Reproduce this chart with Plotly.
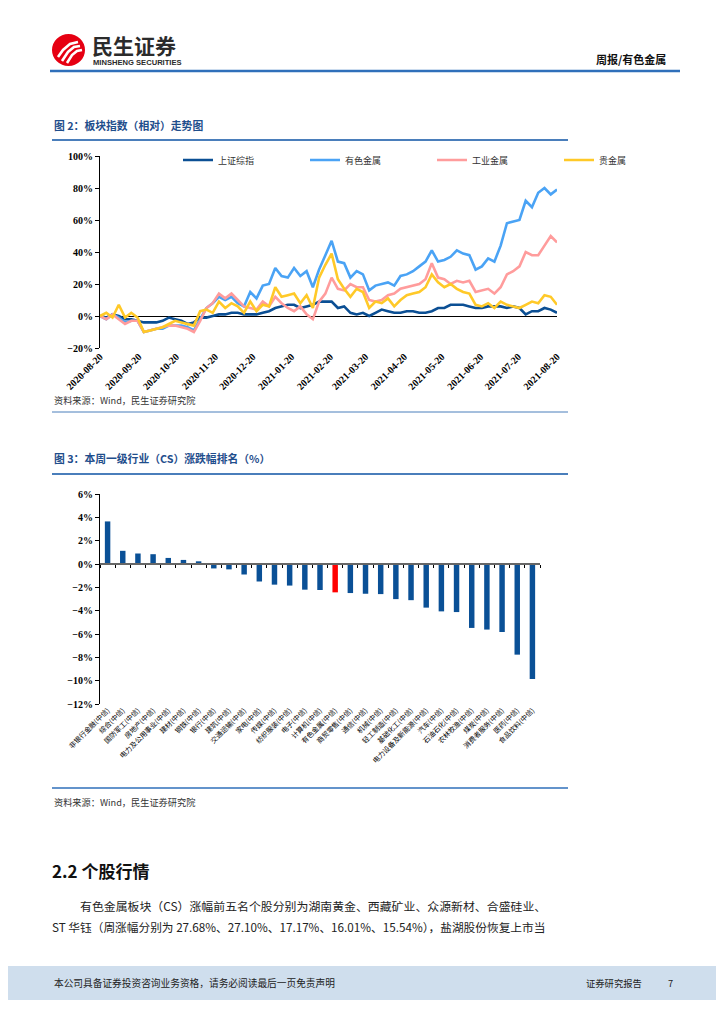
import plotly.graph_objects as go
import pandas as pd

W, H = 724, 1024
PAGE_OFFSET = 8  # the page body margin shifts the figure; positions below are page pixels
def X(px): return (px - PAGE_OFFSET) / W
def Y(py): return 1 - (py - PAGE_OFFSET) / H

# ---------------- data: figure 2 (relative index trend, 5-day samples)
dates = pd.date_range("2020-08-20", "2021-08-20", freq="5D")
sh_index = [0, -1, 1, 0, -2, -2, -3, -4, -4, -4, -3, -1, -2, -3, -5, -4, -1, -1, 0, 1,
            1, 2, 2, 1, 1, 1, 2, 3, 5, 6, 7, 7, 5, 6, 7, 9, 9, 9, 5, 6,
            2, 1, 2, 0, 2, 4, 3, 2, 2, 3, 3, 2, 2, 3, 5, 5, 7, 7, 7, 6,
            5, 5, 6, 6, 6, 5, 6, 5, 1, 3, 3, 5, 4, 2]
nonferrous = [0, -2, 1, -1, -4, -3, -3, -10, -9, -8, -8, -6, -6, -6, -7, -9, -2, 5, 8, 12,
              10, 12, 8, 6, 15, 11, 19, 20, 30, 25, 24, 30, 25, 28, 18, 29, 38, 47, 34, 33,
              24, 28, 26, 16, 19, 20, 21, 19, 25, 26, 28, 31, 34, 41, 34, 35, 37, 41, 39, 38,
              29, 31, 36, 34, 44, 58, 59, 60, 72, 68, 77, 80, 76, 79]
industrial = [0, -2, 1, -2, -5, -3, -3, -10, -9, -8, -7, -6, -6, -7, -8, -10, -3, 5, 8, 14,
              11, 14, 10, 6, 5, 4, 9, 6, 12, 8, 5, 3, 6, 1, -2, 9, 14, 24, 17, 16,
              20, 18, 18, 10, 9, 10, 13, 14, 17, 18, 19, 20, 23, 33, 24, 23, 20, 22, 21, 22,
              15, 16, 17, 14, 18, 26, 28, 31, 40, 38, 38, 44, 50, 46]
precious = [0, 2, -1, 7, -1, 2, -1, -10, -9, -8, -7, -5, -3, -4, -5, -6, 3, 4, 2, 9,
            5, 8, 6, 2, 9, 3, 7, 6, 18, 12, 13, 14, 8, 13, 5, 24, 32, 39, 23, 17,
            12, 17, 15, 5, 9, 8, 11, 6, 10, 13, 14, 15, 18, 26, 21, 18, 20, 17, 15, 14,
            7, 6, 8, 5, 9, 7, 6, 5, 7, 9, 8, 13, 12, 7]
series_names = ["上证综指", "有色金属", "工业金属", "贵金属"]
series_colors = ["#0b4f94", "#4aa3f5", "#ff9c9c", "#ffc928"]

# ---------------- data: figure 3 (weekly change by CITIC level-1 industry, %)
industries = ["非银行金融(中信)", "综合(中信)", "国防军工(中信)", "房地产(中信)", "电力及公用事业(中信)",
              "建材(中信)", "钢铁(中信)", "银行(中信)", "建筑(中信)", "交通运输(中信)",
              "家电(中信)", "传媒(中信)", "纺织服装(中信)", "电子(中信)", "计算机(中信)",
              "有色金属(中信)", "商贸零售(中信)", "通信(中信)", "机械(中信)", "轻工制造(中信)",
              "基础化工(中信)", "电力设备及新能源(中信)", "汽车(中信)", "石油石化(中信)", "农林牧渔(中信)",
              "煤炭(中信)", "消费者服务(中信)", "医药(中信)", "食品饮料(中信)"]
weekly_change = [3.65, 1.13, 0.90, 0.84, 0.52, 0.35, 0.23, -0.38, -0.46, -0.90,
                 -1.50, -1.77, -1.85, -2.20, -2.23, -2.43, -2.49, -2.55, -2.58, -3.01,
                 -3.10, -3.74, -4.06, -4.12, -5.48, -5.62, -5.83, -7.77, -9.86]
highlight = "有色金属(中信)"

CJK = "Noto Sans CJK SC"
SERIF = "Liberation Serif"
TITLE_BLUE = "#1f4e8c"

fig = go.Figure()
for name, vals, color in zip(series_names, [sh_index, nonferrous, industrial, precious], series_colors):
    fig.add_trace(go.Scatter(x=dates, y=vals, name=name, mode="lines",
                             line=dict(color=color, width=2.6), xaxis="x", yaxis="y"))

bar_colors = ["#ff0000" if c == highlight else "#0a5096" for c in industries]
fig.add_trace(go.Bar(x=industries, y=weekly_change, marker=dict(color=bar_colors, line=dict(width=0)),
                     width=0.36, xaxis="x2", yaxis="y2", showlegend=False, hoverinfo="x+y"))
# invisible helper trace so the zero-line axis with boundary ticks renders
fig.add_trace(go.Scatter(x=industries, y=[None] * len(industries), xaxis="x3", yaxis="y2",
                         mode="lines", showlegend=False, hoverinfo="skip"))

annotations = [
    dict(text="<b>图 2：板块指数（相对）走势图</b>", x=X(52), y=Y(125), font=dict(family=CJK, size=10.8, color=TITLE_BLUE)),
    dict(text="资料来源：Wind，民生证券研究院", x=X(52), y=Y(400), font=dict(family=CJK, size=9.2, color="#333333")),
    dict(text="<b>图 3：本周一级行业（CS）涨跌幅排名（%）</b>", x=X(52), y=Y(458), font=dict(family=CJK, size=10.8, color=TITLE_BLUE)),
    dict(text="资料来源：Wind，民生证券研究院", x=X(52), y=Y(802), font=dict(family=CJK, size=9.2, color="#333333")),
    dict(text="<b>2.2 个股行情</b>", x=X(50), y=Y(870), font=dict(family=CJK, size=17, color="#111111")),
    dict(text="有色金属板块（CS）涨幅前五名个股分别为湖南黄金、西藏矿业、众源新材、合盛硅业、",
         x=X(78), y=Y(905), font=dict(family=CJK, size=11.9, color="#222222")),
    dict(text="ST 华钰（周涨幅分别为 27.68%、27.10%、17.17%、16.01%、15.54%），盐湖股份恢复上市当",
         x=X(50), y=Y(926), font=dict(family=CJK, size=11.7, color="#222222")),
    dict(text="本公司具备证券投资咨询业务资格，请务必阅读最后一页免责声明", x=X(52), y=Y(983),
         font=dict(family=CJK, size=9.7, color="#222222")),
    dict(text="证券研究报告", x=X(584), y=Y(983), font=dict(family=CJK, size=9.3, color="#222222")),
    dict(text="7", x=X(666), y=Y(983), font=dict(family=CJK, size=9.3, color="#222222")),
    dict(text="<b>民生证券</b>", x=X(90), y=Y(45), font=dict(family=CJK, size=21, color="#2b2b2b")),
    dict(text="<b>MINSHENG SECURITIES</b>", x=X(91), y=Y(62), font=dict(family="Liberation Sans Narrow, Liberation Sans", size=7.6, color="#2b2b2b")),
    dict(text="<b>周报/有色金属</b>", x=X(668), y=Y(59), xanchor="right", font=dict(family=CJK, size=11, color="#111111")),
]
for a in annotations:
    a.setdefault("xanchor", "left")
    a.update(xref="paper", yref="paper", yanchor="middle", showarrow=False)

def hline(y, x0, x1, color, width):
    return dict(type="line", xref="paper", yref="paper", x0=X(x0), x1=X(x1), y0=Y(y), y1=Y(y),
                line=dict(color=color, width=width))

def stroke(pts):
    d = "M " + " L ".join(f"{X(px):.5f},{Y(py):.5f}" for px, py in pts)
    return dict(type="path", xref="paper", yref="paper", path=d, line=dict(color="white", width=2.6))

shapes = [
    dict(type="rect", xref="paper", yref="paper", x0=X(0), x1=X(732), y0=Y(1000), y1=Y(966),
         fillcolor="#cfdeed", line=dict(width=0), layer="below"),
    hline(71, 50, 680, "#2f6fba", 2.5),
    hline(140, 52, 568, "#4a7ebb", 2),
    hline(412, 52, 568, "#4a7ebb", 1),
    hline(474, 52, 568, "#4a7ebb", 2),
    hline(788, 52, 568, "#2f6fba", 1.5),
    dict(type="circle", xref="paper", yref="paper", x0=X(52), x1=X(85), y0=Y(66), y1=Y(34),
         fillcolor="#e60012", line=dict(width=0)),
    stroke([(58, 57), (63, 50), (70, 44), (78, 42)]),
    stroke([(62, 61), (68, 52), (74, 47), (80, 46)]),
    stroke([(67, 63), (72, 55), (77, 51), (82, 50)]),
]

axis_font = dict(family=SERIF, size=10, color="black", weight="bold")
fig.update_layout(
    template="none",
    width=W, height=H, margin=dict(l=0, r=0, t=0, b=0, pad=0, autoexpand=False),
    paper_bgcolor="white", plot_bgcolor="rgba(0,0,0,0)",
    showlegend=True,
    legend=dict(orientation="h", x=X(178), y=Y(160), xanchor="left", yanchor="middle",
                font=dict(family=CJK, size=9, color="#333333"), bgcolor="rgba(0,0,0,0)",
                entrywidth=82, entrywidthmode="pixels", itemwidth=30, tracegroupgap=0),
    xaxis=dict(domain=[X(100), X(557)], anchor="y", type="date", automargin=False,
               range=[dates[0], dates[-1]], tick0="2020-08-20", dtick="M1", tickformat="%Y-%m-%d",
               tickangle=-45, tickfont=axis_font, showgrid=False, showline=False, zeroline=False, ticks=""),
    yaxis=dict(domain=[Y(348), Y(156)], anchor="x", range=[-20, 100], dtick=20, ticksuffix="%",
               automargin=False, tickfont=axis_font, showgrid=False, showline=True, linecolor="black", linewidth=1,
               ticks="outside", ticklen=4, tickcolor="black",
               zeroline=True, zerolinecolor="black", zerolinewidth=1),
    xaxis2=dict(domain=[X(100), X(540)], anchor="y2", type="category", range=[-0.5, len(industries) - 0.5],
                automargin=False, tickangle=-45, tickfont=dict(family=CJK, size=7, color="black"),
                showgrid=False, showline=False, zeroline=False, ticks=""),
    xaxis3=dict(overlaying="x2", anchor="free", position=Y(564), type="category", automargin=False,
                range=[-0.5, len(industries) - 0.5], showticklabels=False, showgrid=False,
                showline=True, linecolor="#666666", linewidth=1.5, ticks="outside", tickson="boundaries",
                ticklen=3, tickcolor="black", zeroline=False),
    yaxis2=dict(domain=[Y(704), Y(494)], anchor="x2", range=[-12, 6], dtick=2, ticksuffix="%",
                automargin=False, tickfont=axis_font, showgrid=False, showline=True, linecolor="black", linewidth=1,
                ticks="outside", ticklen=4, tickcolor="black", zeroline=False),
    annotations=annotations, shapes=shapes,
)

fig.write_html("out.html")
